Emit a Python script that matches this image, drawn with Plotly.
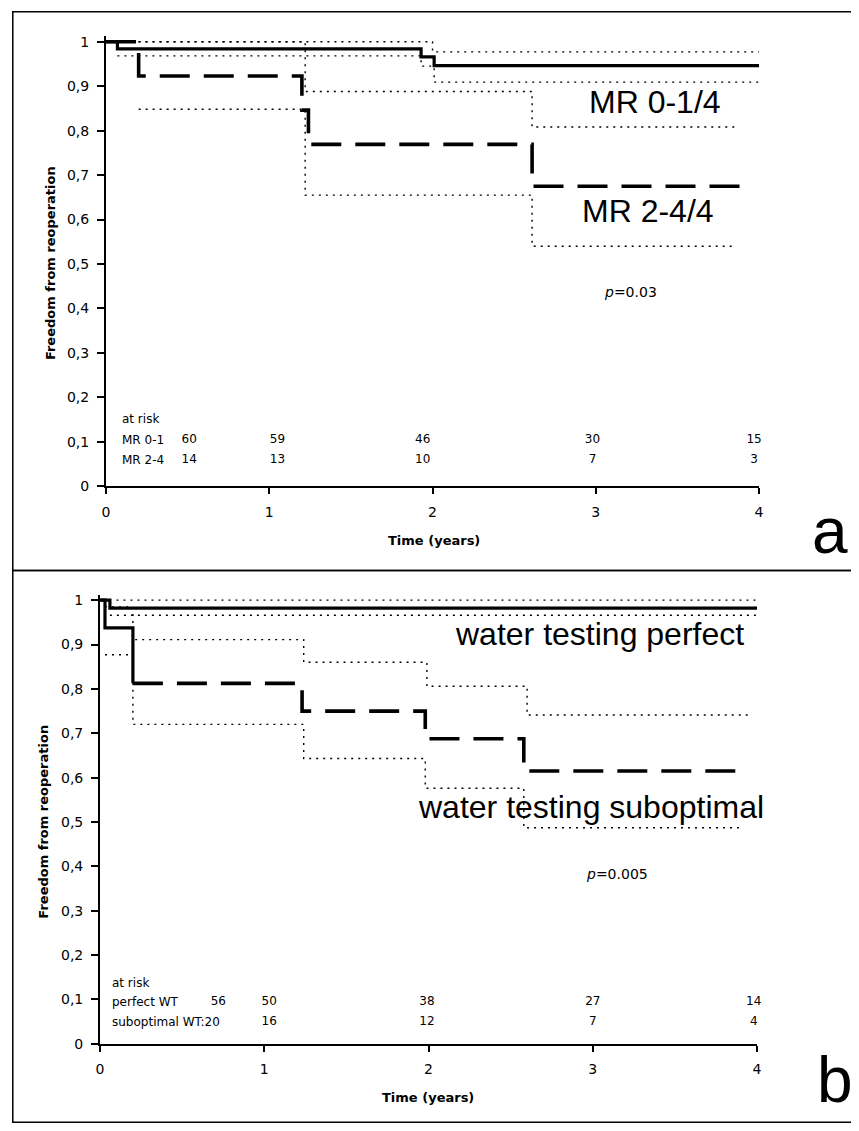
import plotly.graph_objects as go

# The page body has an 8px margin, so the figure is 8px smaller and offset.
OFF = 8
W, H = 859 - OFF, 1131 - OFF

# ---------------- Panel a data ----------------
a_mr01_t = [0, 0.07, 1.93, 2.01, 4.0]
a_mr01_s = [1.0, 0.984, 0.966, 0.946, 0.946]
a_mr01_up_t = [0.07, 2.0, 4.0]
a_mr01_up_s = [1.0, 0.977, 0.977]
a_mr01_lo_t = [0.07, 1.93, 2.01, 4.0]
a_mr01_lo_s = [0.968, 0.945, 0.909, 0.909]

a_mr24_t = [0, 0.2, 1.2, 1.24, 2.61, 3.93]
a_mr24_s = [1.0, 0.923, 0.846, 0.769, 0.675, 0.675]
a_mr24_up_t = [0.2, 1.22, 2.61, 3.86]
a_mr24_up_s = [1.0, 0.888, 0.808, 0.808]
a_mr24_lo_t = [0.2, 1.22, 2.61, 3.84]
a_mr24_lo_s = [0.848, 0.655, 0.54, 0.54]

a_risk_x = [0.51, 1.05, 1.94, 2.98, 3.97]
a_risk_mr01 = ["60", "59", "46", "30", "15"]
a_risk_mr24 = ["14", "13", "10", "7", "3"]

# ---------------- Panel b data ----------------
b_pwt_t = [0, 0.06, 4.0]
b_pwt_s = [1.0, 0.982, 0.982]
b_pwt_up_t = [0.1, 4.0]
b_pwt_up_s = [1.0, 1.0]
b_pwt_lo_t = [0.06, 4.0]
b_pwt_lo_s = [0.966, 0.966]

b_swt_t = [0, 0.03, 0.2, 1.23, 1.98, 2.58, 3.88]
b_swt_s = [1.0, 0.9375, 0.8125, 0.75, 0.6875, 0.615, 0.615]
b_swt_up_t = [0.03, 0.2, 1.24, 1.99, 2.6, 3.95]
b_swt_up_s = [0.985, 0.911, 0.86, 0.806, 0.741, 0.741]
b_swt_lo_t = [0.03, 0.2, 1.24, 1.98, 2.58, 3.92]
b_swt_lo_s = [0.877, 0.72, 0.643, 0.576, 0.487, 0.487]

b_risk_x = [0.72, 1.03, 1.99, 3.0, 3.98]
b_risk_pwt = ["56", "50", "38", "27", "14"]
b_risk_swt_x = [1.03, 1.99, 3.0, 3.98]
b_risk_swt = ["16", "12", "7", "4"]

y_ticks = [0, 0.1, 0.2, 0.3, 0.4, 0.5, 0.6, 0.7, 0.8, 0.9, 1.0]
y_tick_text = ["0", "0,1", "0,2", "0,3", "0,4", "0,5", "0,6", "0,7", "0,8", "0,9", "1"]
x_ticks = [0, 1, 2, 3, 4]

SMALL = "DejaVu Sans"
BIG = "Liberation Sans, Arial"

fig = go.Figure()


def step(t, s, xa, ya, kind):
    if kind == "solid":
        line = dict(color="black", width=3.2, shape="hv")
    elif kind == "dash":
        line = dict(color="black", width=3.6, shape="hv", dash="30px,14px")
    else:
        line = dict(color="black", width=1.4, shape="hv", dash="2px,5px")
    fig.add_trace(go.Scatter(x=t, y=s, mode="lines", line=line, xaxis=xa, yaxis=ya,
                             showlegend=False, hoverinfo="skip"))


# panel a
step(a_mr01_up_t, a_mr01_up_s, "x", "y", "dot")
step(a_mr01_lo_t, a_mr01_lo_s, "x", "y", "dot")
step(a_mr24_up_t, a_mr24_up_s, "x", "y", "dot")
step(a_mr24_lo_t, a_mr24_lo_s, "x", "y", "dot")
step(a_mr01_t, a_mr01_s, "x", "y", "solid")
step(a_mr24_t, a_mr24_s, "x", "y", "dash")
# panel b
step(b_pwt_up_t, b_pwt_up_s, "x2", "y2", "dot")
step(b_pwt_lo_t, b_pwt_lo_s, "x2", "y2", "dot")
step(b_swt_up_t, b_swt_up_s, "x2", "y2", "dot")
step(b_swt_lo_t, b_swt_lo_s, "x2", "y2", "dot")
step(b_pwt_t, b_pwt_s, "x2", "y2", "solid")
step(b_swt_t[:3], b_swt_s[:3], "x2", "y2", "solid")
step(b_swt_t[2:], b_swt_s[2:], "x2", "y2", "dash")


def risk_row(xs, y, labels, xa, ya):
    fig.add_trace(go.Scatter(x=xs, y=[y] * len(xs), mode="text", text=labels,
                             textfont=dict(family=SMALL, size=12, color="black"),
                             cliponaxis=False, xaxis=xa, yaxis=ya,
                             showlegend=False, hoverinfo="skip"))


risk_row(a_risk_x, 0.105, a_risk_mr01, "x", "y")
risk_row(a_risk_x, 0.06, a_risk_mr24, "x", "y")
risk_row(b_risk_x, 0.094, b_risk_pwt, "x2", "y2")
risk_row(b_risk_swt_x, 0.049, b_risk_swt, "x2", "y2")


def px(x):
    return (x - OFF) / W


def py(y):
    return 1 - (y - OFF) / H


# axis geometry (pixel based, reference coordinates)
a_x0, a_x1, a_y0, a_y1 = 103, 763, 488, 39
b_x0, b_x1, b_y0, b_y1 = 97, 761, 1051, 603
YTOP = 1.012

axis_common = dict(showgrid=False, zeroline=False, showline=True, linecolor="black",
                   ticks="outside", tickcolor="black", mirror=False)

fig.update_layout(
    width=W, height=H, margin=dict(l=0, r=0, t=0, b=0),
    paper_bgcolor="white", plot_bgcolor="white",
    xaxis=dict(domain=[px(a_x0), px(a_x1)], range=[0, 4], tickvals=x_ticks,
               linewidth=1.5, ticklen=6, tickwidth=1.5, ticklabelstandoff=6,
               tickfont=dict(family=SMALL, size=14, color="black"), anchor="y", **axis_common),
    yaxis=dict(domain=[py(a_y0), py(a_y1 - (YTOP - 1) * (a_y0 - a_y1))], range=[0, YTOP],
               tickvals=y_ticks, ticktext=y_tick_text, linewidth=2, ticklen=7, tickwidth=1.5,
               ticklabelstandoff=5,
               tickfont=dict(family=SMALL, size=14, color="black"), anchor="x", **axis_common),
    xaxis2=dict(domain=[px(b_x0), px(b_x1)], range=[0, 4], tickvals=x_ticks,
                linewidth=1.5, ticklen=6, tickwidth=1.5, ticklabelstandoff=6,
                tickfont=dict(family=SMALL, size=14, color="black"), anchor="y2", **axis_common),
    yaxis2=dict(domain=[py(b_y0), py(b_y1 - (YTOP - 1) * (b_y0 - b_y1))], range=[0, YTOP],
                tickvals=y_ticks, ticktext=y_tick_text, linewidth=2, ticklen=7, tickwidth=1.5,
                ticklabelstandoff=5,
                tickfont=dict(family=SMALL, size=14, color="black"), anchor="x2", **axis_common),
)

ann = []


def data_text(x, y, text, xr, yr, size, family, xanchor="center", bold=False):
    ann.append(dict(x=x, y=y, xref=xr, yref=yr, text=("<b>%s</b>" % text) if bold else text,
                    showarrow=False, xanchor=xanchor, yanchor="middle",
                    font=dict(family=family, size=size, color="black")))


def paper_text(x, y, text, size, family, angle=0, bold=False):
    ann.append(dict(x=px(x), y=py(y), xref="paper", yref="paper",
                    text=("<b>%s</b>" % text) if bold else text, textangle=angle,
                    showarrow=False, xanchor="center", yanchor="middle",
                    font=dict(family=family, size=size, color="black")))


# panel a texts
data_text(3.36, 0.864, "MR 0-1/4", "x", "y", 32, BIG)
data_text(3.32, 0.619, "MR 2-4/4", "x", "y", 32, BIG)
data_text(3.21, 0.436, "<i>p</i>=0.03", "x", "y", 14, SMALL)
data_text(0.085, 0.151, "at risk", "x", "y", 12, SMALL, xanchor="left")
data_text(0.085, 0.105, "MR 0-1", "x", "y", 12, SMALL, xanchor="left")
data_text(0.085, 0.06, "MR 2-4", "x", "y", 12, SMALL, xanchor="left")
paper_text(47, 263, "Freedom from reoperation", 13, SMALL, angle=-90, bold=True)
paper_text(435, 543, "Time (years)", 13, SMALL, bold=True)
paper_text(835, 533, "a", 64, BIG)

# panel b texts
data_text(3.04, 0.924, "water testing perfect", "x2", "y2", 32, BIG)
data_text(2.99, 0.533, "water testing suboptimal", "x2", "y2", 32, BIG)
data_text(3.15, 0.382, "<i>p</i>=0.005", "x2", "y2", 14, SMALL)
data_text(0.06, 0.138, "at risk", "x2", "y2", 12, SMALL, xanchor="left")
data_text(0.06, 0.094, "perfect WT", "x2", "y2", 12, SMALL, xanchor="left")
data_text(0.06, 0.049, "suboptimal WT:20", "x2", "y2", 12, SMALL, xanchor="left")
paper_text(40, 827, "Freedom from reoperation", 13, SMALL, angle=-90, bold=True)
paper_text(428, 1105, "Time (years)", 13, SMALL, bold=True)
paper_text(840, 1088, "b", 64, BIG)

fig.update_layout(annotations=ann)

# panel frames
fig.add_shape(type="rect", xref="paper", yref="paper", x0=px(8.8), x1=px(858.2), y0=py(573), y1=py(8.8),
              line=dict(color="black", width=1.5))
fig.add_shape(type="rect", xref="paper", yref="paper", x0=px(8.8), x1=px(858.2), y0=py(1130.2), y1=py(573),
              line=dict(color="black", width=1.5))

fig.write_html("out.html")
